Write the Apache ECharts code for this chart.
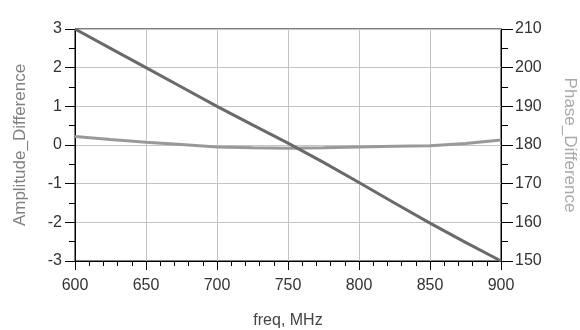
<!DOCTYPE html>
<html><head><meta charset="utf-8">
<script src="https://cdn.jsdelivr.net/npm/echarts@6/dist/echarts.min.js"></script>
<style>html,body{margin:0;padding:0;background:#fff}#c{width:580px;height:330px}</style>
</head><body><div id="c"></div>
<script>
var freq = [600, 625, 650, 675, 700, 725, 750, 775, 800, 825, 850, 875, 900];
var amplitudeDiff = [3.0, 2.5, 2.0, 1.5, 1.0, 0.52, 0.05, -0.45, -0.97, -1.5, -2.02, -2.52, -3.0];
var phaseDiff = [182.2, 181.4, 180.7, 180.1, 179.5, 179.3, 179.15, 179.3, 179.5, 179.65, 179.8, 180.4, 181.3];
var xTicks = [600, 650, 700, 750, 800, 850, 900];

function pairs(xs, ys){ return xs.map(function(x,i){ return [x, ys[i]]; }); }
var font = 'Liberation Sans, Arial, sans-serif';
var chart = echarts.init(document.getElementById('c'));
chart.setOption({
  animation: false,
  backgroundColor: '#fff',
  grid: {left: 75, right: 79, top: 29, bottom: 69, outerBoundsMode: 'none', containLabel: false,
         show: true, borderColor: '#000', borderWidth: 1, backgroundColor: '#fff'},
  xAxis: {
    type: 'value', min: xTicks[0], max: xTicks[xTicks.length-1], interval: 50,
    name: 'freq, MHz', nameLocation: 'middle', nameGap: 52,
    nameTextStyle: {fontFamily: font, fontSize: 16, color: '#444'},
    axisLine: {show: true, onZero: false, lineStyle: {color: '#000', width: 1}},
    axisTick: {show: true, inside: false, length: 9, lineStyle: {color: '#000'}},
    minorTick: {show: true, splitNumber: 5, length: 5, lineStyle: {color: '#000'}},
    axisLabel: {fontFamily: font, fontSize: 16, color: '#333', margin: 17},
    splitLine: {show: true, lineStyle: {color: '#c4c4c4', width: 1}}
  },
  yAxis: [{
    type: 'value', min: -3, max: 3, interval: 1, position: 'left',
    name: 'Amplitude_Difference', nameLocation: 'middle', nameGap: 46,
    nameTextStyle: {fontFamily: font, fontSize: 17, color: '#808080'},
    axisLine: {show: true, lineStyle: {color: '#000', width: 1}},
    axisTick: {show: true, length: 10, lineStyle: {color: '#000'}},
    minorTick: {show: true, splitNumber: 2, length: 6, lineStyle: {color: '#000'}},
    axisLabel: {fontFamily: font, fontSize: 16, color: '#333', margin: 13},
    splitLine: {show: true, lineStyle: {color: '#c4c4c4', width: 1}}
  }, {
    type: 'value', min: 150, max: 210, interval: 10, position: 'right',
    name: 'Phase_Difference', nameLocation: 'middle', nameGap: 60, nameRotate: -90,
    nameTextStyle: {fontFamily: font, fontSize: 17, color: '#a8a8a8'},
    axisLine: {show: true, lineStyle: {color: '#000', width: 1}},
    axisTick: {show: true, length: 12, lineStyle: {color: '#000'}},
    minorTick: {show: true, splitNumber: 2, length: 7, lineStyle: {color: '#000'}},
    axisLabel: {fontFamily: font, fontSize: 16, color: '#333', margin: 14},
    splitLine: {show: false}
  }],
  series: [{
    name: 'Amplitude_Difference', type: 'line', yAxisIndex: 0, data: pairs(freq, amplitudeDiff),
    showSymbol: false, lineStyle: {color: '#6a6a6a', width: 3}, z: 3
  }, {
    name: 'Phase_Difference', type: 'line', yAxisIndex: 1, data: pairs(freq, phaseDiff),
    showSymbol: false, lineStyle: {color: '#999999', width: 3}, z: 2
  }]
});
</script></body></html>
